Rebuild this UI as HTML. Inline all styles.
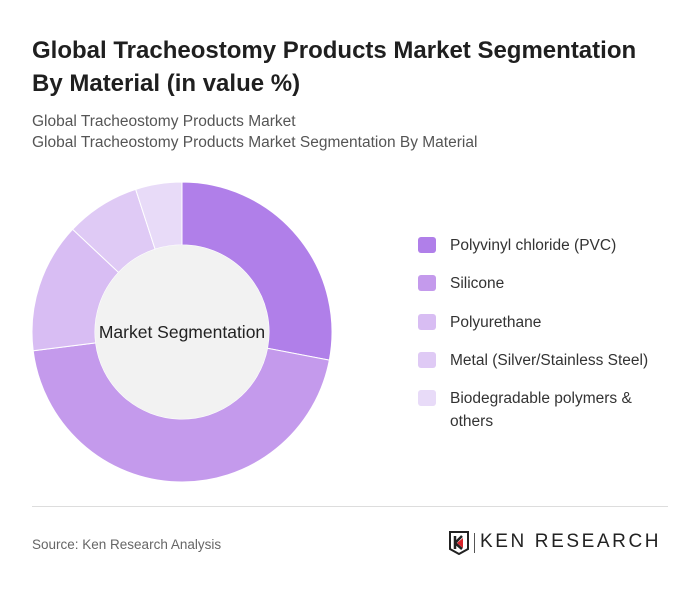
<!DOCTYPE html>
<html><head><meta charset="utf-8"><style>
body{margin:0;width:700px;height:591px;background:#fff;font-family:"Liberation Sans",sans-serif;position:relative;overflow:hidden}
.t{position:absolute;left:32px;top:34px;font-size:24px;font-weight:bold;color:#1f1f1f;line-height:33px;width:630px}
.s{position:absolute;left:32px;font-size:15.5px;color:#555}
.leg{position:absolute;left:418px;font-size:15.5px;color:#333;line-height:23px}
.sw{position:absolute;left:0;top:3px;width:18px;height:16px;border-radius:3px}
.lt{position:absolute;left:32px;width:210px}
</style></head><body>
<div class="t">Global Tracheostomy Products Market Segmentation By Material (in value %)</div>
<div class="s" style="top:113px">Global Tracheostomy Products Market</div>
<div class="s" style="top:134px">Global Tracheostomy Products Market Segmentation By Material</div>
<svg id="pie" width="700" height="591" style="position:absolute;left:0;top:0"></svg>
<div id="legend"></div>
<div style="position:absolute;left:32px;top:506px;width:636px;height:1px;background:#ddd"></div>
<div class="s" style="top:537px;font-size:13.5px;color:#666">Source: Ken Research Analysis</div>
<div style="position:absolute;left:448px;top:531px">
<svg width="22" height="24" style="position:absolute;left:0;top:0"><path d="M2 1h18v17l-9 5-9-5z" fill="none" stroke="#222" stroke-width="2"/><path d="M7 5v13M7 12l7-7M7 12l7 6" stroke="#222" stroke-width="2.5" fill="none"/><path d="M9 12l6-5v10z" fill="#d8232a"/></svg>
<div style="position:absolute;left:26px;top:2px;width:1px;height:20px;background:#555"></div>
<div style="position:absolute;left:32px;top:0;font-size:19px;letter-spacing:2.6px;color:#222;white-space:nowrap">KEN RESEARCH</div>
</div>
<script>
const categories=["Polyvinyl chloride (PVC)","Silicone","Polyurethane","Metal (Silver/Stainless Steel)","Biodegradable polymers & others"];
const values=[28,45,14,8,5];
const colors=["#b07fe9","#c49aec","#d8bdf3","#dfcaf5","#e8dbf8"];
const NS="http://www.w3.org/2000/svg",svg=document.getElementById('pie');
const cx=182,cy=332,R=150,r=87;
const total=values.reduce((a,b)=>a+b,0);
let a0=0;
function pt(a,rad){return [cx+rad*Math.sin(a),cy-rad*Math.cos(a)];}
values.forEach((v,i)=>{
 const a1=a0+v/total*2*Math.PI,lg=(a1-a0)>Math.PI?1:0;
 const [x0,y0]=pt(a0,R),[x1,y1]=pt(a1,R),[x2,y2]=pt(a1,r),[x3,y3]=pt(a0,r);
 const p=document.createElementNS(NS,'path');
 p.setAttribute('d',`M${x0} ${y0}A${R} ${R} 0 ${lg} 1 ${x1} ${y1}L${x2} ${y2}A${r} ${r} 0 ${lg} 0 ${x3} ${y3}Z`);
 p.setAttribute('fill',colors[i]);p.setAttribute('stroke','#fff');p.setAttribute('stroke-width','1');
 
 
 svg.appendChild(p);a0=a1;
});
const c=document.createElementNS(NS,'circle');c.setAttribute('cx',cx);c.setAttribute('cy',cy);c.setAttribute('r',r);c.setAttribute('fill','#f2f2f2');


svg.appendChild(c);
const t=document.createElementNS(NS,'text');t.setAttribute('x',cx);t.setAttribute('y',cy+6);t.setAttribute('text-anchor','middle');t.setAttribute('font-size','17.5');t.setAttribute('fill','#222');t.setAttribute('font-family','Liberation Sans, sans-serif');t.textContent='Market Segmentation';


svg.appendChild(t);
const lg=document.getElementById('legend');
const tops=[234,272,311,349,387];
categories.forEach((n,i)=>{
 const d=document.createElement('div');d.className='leg';d.style.top=tops[i]+'px';
 
 
 d.innerHTML=`<div class="sw" style="background:${colors[i]}"></div><div class="lt">${n.replace('&','&amp;')}</div>`;
 lg.appendChild(d);
});
</script>
</body></html>
